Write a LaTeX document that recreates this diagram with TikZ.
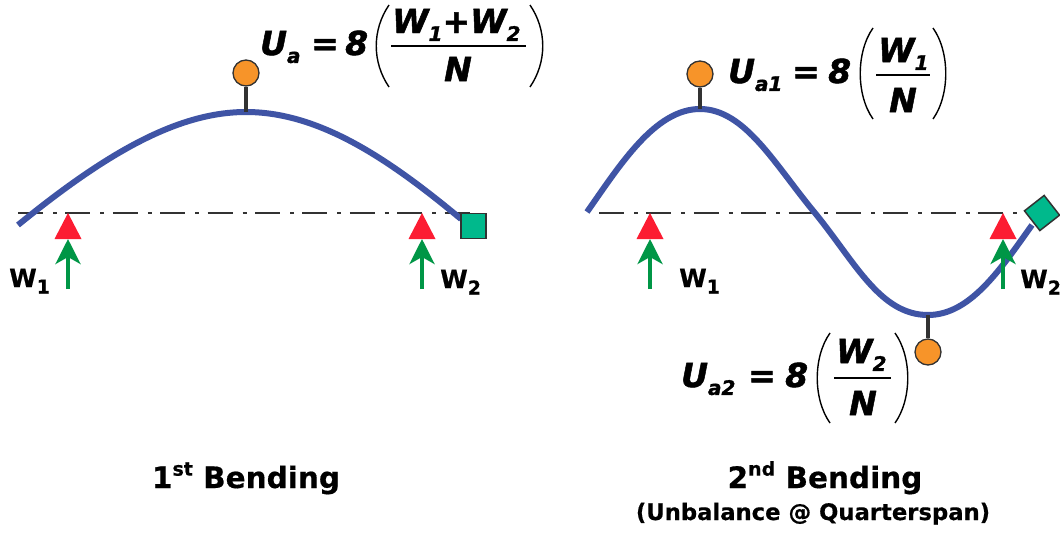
\documentclass[tikz,border=0pt]{standalone}
\usepackage{fontspec}
\setmainfont{DejaVu Sans}[FakeBold=0.5]
\newfontfamily\formfont{DejaVu Sans}[FakeBold=1.5]
\usetikzlibrary{arrows.meta}
\definecolor{curveblue}{RGB}{63,84,165}
\definecolor{ballorange}{RGB}{247,148,41}
\definecolor{teal}{RGB}{0,185,140}
\definecolor{arrowgreen}{RGB}{0,150,70}
\definecolor{trired}{RGB}{252,28,50}
\definecolor{stemdark}{RGB}{50,50,50}
\newcommand{\fsz}[1]{\fontsize{#1}{#1}\selectfont}
\newcommand{\fsub}[1]{\raisebox{-0.24em}{\fsz{20}#1}}
\newcommand{\lsub}[1]{\raisebox{-0.26em}{\fsz{19}#1}}
\tikzset{
  x=1pt,y=-1pt,
  deflect/.style={draw=curveblue,line width=6pt},
  axisline/.style={draw=stemdark,line width=2.8pt,dash pattern=on 25pt off 10pt on 4pt off 8.4pt},
  stem/.style={draw=stemdark,line width=4.5pt},
  ball/.style={circle,draw=stemdark,line width=1.3pt,fill=ballorange,minimum size=26pt,inner sep=0pt},
  sensor/.style={rectangle,draw=stemdark,line width=1.5pt,fill=teal,minimum size=25pt,inner sep=0pt},
  bearing/.style={fill=trired},
  force/.style={draw=arrowgreen,line width=4pt,-{Stealth[length=25pt,width=25pt,inset=7pt]}},
  lab/.style={inner sep=0pt,anchor=base west,font=\fsz{25}\bfseries},
  form/.style={inner sep=0pt,anchor=base west,font=\formfont\fsz{33}\bfseries\itshape},
  formc/.style={form,anchor=base},
  ttl/.style={inner sep=0pt,anchor=base,font=\fsz{29.5}\bfseries},
  paren/.style={draw=black,line width=1.4pt},
  bar/.style={draw=black,line width=1.8pt},
}
\begin{document}
\begin{tikzpicture}
\useasboundingbox (0,0) rectangle (1060,533);
\fill[white] (0,0) rectangle (1060,533);
% --- axes
\draw[axisline] (18,213) -- (470,213);
\draw[axisline] (599,213) -- (1022,213);
% --- curves
\coordinate (peakA) at (246,112);
\coordinate (peakB) at (700,109);
\coordinate (peakC) at (928,315);
\draw[deflect] (18,225) .. controls (110,150) and (180,112) .. (peakA)
  .. controls (320,112) and (390,160) .. (461,219);
\draw[deflect] (587,212) .. controls (620,165) and (655,109) .. (peakB)
  .. controls (745,109) and (775,165) .. (815,213)
  .. controls (855,262) and (880,315) .. (peakC)
  .. controls (970,315) and (1000,270) .. (1032,225);
% --- balls
\node[ball] (b1) at (246,73) {};
\node[ball] (b2) at (700,74) {};
\node[ball] (b3) at (928,352) {};
\draw[stem] (b1) -- (peakA);
\draw[stem] (b2) -- (peakB);
\draw[stem] (b3) -- (peakC);
% --- sensors
\node[sensor] (s1) at (473.5,226) {};
\node[sensor,rotate=38] (s2) at (1042,213) {};
% --- bearings and forces
\foreach \n/\x in {a/68,b/422,c/650,d/1003}{
  \fill[bearing] (\x,213) -- (\x+13.5,239) -- (\x-13.5,239) -- cycle;
  \coordinate (top\n) at (\x,239);
  \coordinate (low\n) at (\x,289);
  \draw[force] (low\n) -- (top\n);
}
% --- load labels
\node[lab] (w1a) at (9,287) {W\lsub{1}};
\node[lab] (w2a) at (440,288) {W\lsub{2}};
\node[lab] (w1b) at (679,287) {W\lsub{1}};
\node[lab] (w2b) at (1020,288) {W\lsub{2}};
% --- formula 1
\node[form] (f1u) at (260,55) {U\fsub{a}};
\node[form] (f1e) at (311,55) {=};
\node[form] (f1f) at (345,55) {8};
\node[form] (f1n) at (392,33) {W\fsub{1}+W\fsub{2}};
\node[formc] (f1d) at (458,81) {N};
\draw[bar] (391,46) -- (526,46);
\draw[paren] (389,5) .. controls (372,30) and (372,62) .. (389,87);
\draw[paren] (530,5) .. controls (547,30) and (547,62) .. (530,87);
% --- formula 2
\node[form] (f2u) at (728,83) {U\fsub{a1}};
\node[form] (f2e) at (792,83) {=};
\node[form] (f2f) at (828,83) {8};
\node[form] (f2n) at (878,62) {W\fsub{1}};
\node[formc] (f2d) at (903,112) {N};
\draw[bar] (876,75) -- (930,75);
\draw[paren] (873,28) .. controls (856,52) and (856,95) .. (873,119);
\draw[paren] (933,28) .. controls (950,52) and (950,95) .. (933,119);
% --- formula 3
\node[form] (f3u) at (681,387) {U\fsub{a2}};
\node[form] (f3e) at (748,387) {=};
\node[form] (f3f) at (785,387) {8};
\node[form] (f3n) at (836,363) {W\fsub{2}};
\node[formc] (f3d) at (863,415) {N};
\draw[bar] (834,378) -- (891,378);
\draw[paren] (830,333) .. controls (813,357) and (813,399) .. (830,423);
\draw[paren] (895,333) .. controls (912,357) and (912,399) .. (895,423);
% --- titles
\node[ttl] (t1) at (246,488) {1\raisebox{0.42em}{\fsz{19}st} Bending};
\node[ttl] (t2) at (825,488) {2\raisebox{0.42em}{\fsz{19}nd} Bending};
\node[ttl,font=\fsz{22.7}\bfseries] (t3) at (813,520) {(Unbalance @ Quarterspan)};
\end{tikzpicture}
\end{document}
